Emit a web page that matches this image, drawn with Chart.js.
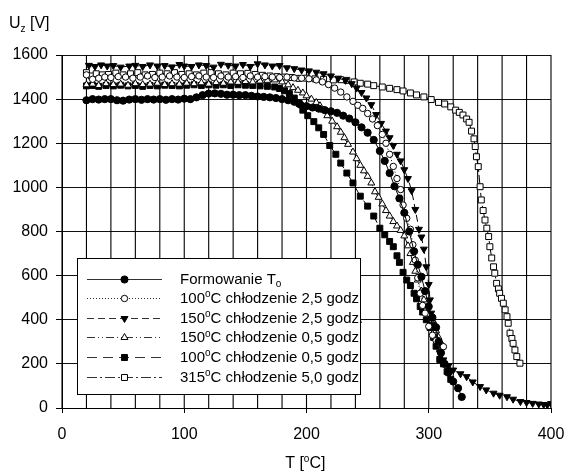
<!DOCTYPE html>
<html>
<head>
<meta charset="utf-8">
<script src="https://cdn.jsdelivr.net/npm/chart.js@4.4.1/dist/chart.umd.min.js"></script>
<style>
  html, body { margin: 0; padding: 0; background: #fff; }
  #chart { display: block; }
</style>
</head>
<body>
<canvas id="chart" width="568" height="471"></canvas>
<script>
// --- data ---
// Formowanie To
const tempForm = [20,25,30,35,40,45,50,55,60,65,
  70,75,80,85,90,95,100,105,110,115,
  120,125,130,135,140,145,150,155,160,165,
  170,175,180,185,190,195,200,205,210,215,
  220,225,230,235,240,245,250,255,260,264,
  268,272,276,280,284,288,291,294,297,300,
  303,306,308,310,313,316,320,324,327];
const voltForm = [1395,1400,1398,1400,1400,1395,1393,1398,1400,1397,
  1400,1398,1400,1397,1400,1398,1402,1400,1408,1418,
  1425,1426,1424,1420,1420,1418,1418,1415,1412,1410,
  1408,1405,1400,1395,1388,1375,1368,1362,1357,1350,
  1345,1338,1325,1312,1295,1272,1248,1215,1165,1120,
  1065,1005,950,885,800,710,650,595,530,460,
  410,365,300,250,200,160,120,90,50];

// 100C chlodzenie 2,5 godz
const temp100Long = [20,25,30,35,40,46,52,58,64,70,
  76,82,88,94,100,106,112,118,124,130,
  136,142,148,154,160,166,172,178,184,190,
  196,202,208,213,218,223,228,233,238,242,
  246,250,254,258,262,265,268,271,274,277,
  279,282,285,287,289,291,293,295,297,300,
  303,306,309,312];
const volt100Long = [1510,1490,1495,1500,1498,1502,1500,1495,1500,1505,
  1498,1500,1505,1500,1498,1502,1505,1500,1498,1505,
  1500,1502,1498,1505,1500,1502,1500,1498,1500,1496,
  1495,1492,1487,1478,1466,1450,1432,1410,1390,1372,
  1358,1335,1310,1280,1240,1200,1150,1095,1040,990,
  920,860,810,740,670,590,520,465,430,370,
  330,305,293,278];

// 150C chlodzenie 2,5 godz.
const temp150Long = [22,27,32,37,42,48,55,60,66,72,
  78,84,90,96,100,106,112,118,124,130,
  136,142,148,154,160,166,172,178,184,190,
  196,202,208,214,220,226,232,237,241,245,
  249,253,257,261,265,268,271,274,277,280,
  283,286,289,292,294,296,298,300,301,302,
  303,306,309,312,316,320,326,331,336,342,
  347,353,358,364,369,375,380,385,390,394,
  397,400];
const volt150Long = [1553,1548,1555,1550,1552,1545,1550,1553,1548,1555,
  1550,1552,1546,1557,1550,1548,1555,1552,1545,1558,
  1553,1550,1557,1548,1560,1555,1550,1552,1542,1538,
  1532,1528,1522,1515,1505,1495,1485,1470,1450,1430,
  1405,1375,1330,1290,1255,1225,1190,1150,1120,1080,
  1040,985,900,810,775,720,640,560,490,430,
  380,310,250,218,190,172,155,142,118,97,
  82,67,58,51,40,29,25,21,18,16,
  14,20];

// 150C chlodzenie 0,5 godz
const temp150Short = [20,25,30,36,42,48,54,60,66,72,
  78,84,90,96,102,108,114,120,126,132,
  138,144,150,156,162,168,174,180,185,189,
  193,197,200,204,208,211,214,217,221,225,
  228,231,234,238,241,244,247,250,253,256,
  259,262,265,268,271,274,277,280,283,285,
  287,289,291,294,296,298,300,302,304,306,
  308,310];
const volt150Short = [1465,1468,1462,1470,1466,1468,1463,1470,1466,1468,
  1472,1466,1470,1468,1472,1470,1474,1468,1475,1472,
  1478,1476,1480,1478,1482,1485,1487,1478,1465,1452,
  1440,1428,1415,1400,1385,1370,1350,1325,1300,1275,
  1250,1225,1195,1160,1130,1100,1075,1050,1020,980,
  955,925,895,870,845,825,805,780,735,700,
  660,620,580,530,490,450,425,405,390,350,
  320,295];

// 100C chlodzenie 0,5 godz
const temp100Short = [20,25,30,36,42,48,54,60,66,72,
  78,84,90,96,102,108,114,120,126,132,
  138,144,150,156,162,168,174,178,182,186,
  190,194,197,201,206,210,214,219,224,228,
  233,238,244,250,255,260,264,268,271,274,
  276,279,282,285,288,290,293,295,298,301,
  304,306,309,312,315,318];
const volt100Short = [1460,1462,1458,1462,1460,1463,1460,1462,1458,1462,
  1460,1463,1462,1460,1463,1465,1462,1465,1463,1465,
  1462,1465,1463,1462,1460,1458,1455,1448,1438,1425,
  1405,1380,1350,1325,1298,1270,1240,1190,1150,1110,
  1065,1020,960,915,870,815,785,755,731,690,
  660,615,580,555,520,495,460,435,400,365,
  320,280,220,200,165,130];

// 315C chlodzenie 5,0 godz
const temp315 = [20,24,28,33,38,44,50,56,62,68,
  74,80,86,92,98,104,110,116,122,128,
  134,140,146,152,158,164,170,176,182,188,
  194,200,207,214,222,228,233,239,244,250,
  255,262,268,274,279,285,290,296,302,308,
  313,318,322,325,328,331,333,335,337,338,
  339,340.5,342,343,344.5,346,347.5,349,350,351.5,
  353,354,355.5,357,358,359.5,361,362.5,364,365,
  366.5,368,369,370.5,372,374.6];
const volt315 = [1520,1505,1515,1510,1512,1518,1510,1515,1520,1510,
  1512,1518,1515,1520,1512,1515,1510,1518,1520,1515,
  1510,1518,1515,1517,1512,1508,1505,1502,1500,1498,
  1494,1495,1492,1490,1487,1488,1485,1478,1472,1468,
  1461,1455,1449,1443,1437,1428,1419,1410,1398,1385,
  1378,1365,1350,1340,1328,1310,1295,1255,1220,1185,
  1139,1094,1003,943,895,852,815,777,731,680,
  640,611,565,540,520,497,475,445,414,384,
  339,315,293,263,233,203];

// legend texts: [main, superscript/subscript, rest]
const seriesNames = [
  ['Formowanie T', 'o', ''],
  ['100', 'o', 'C chłodzenie 2,5 godz'],
  ['150', 'o', 'C chłodzenie 2,5 godz.'],
  ['150', 'o', 'C chłodzenie 0,5 godz'],
  ['100', 'o', 'C chłodzenie 0,5 godz'],
  ['315', 'o', 'C chłodzenie 5,0 godz']
];

const xTickLabels = [0, 100, 200, 300, 400];
const xGridStep = 20;
const yTickLabels = [0, 200, 400, 600, 800, 1000, 1200, 1400, 1600];

function toPoints(xs, ys) {
  return xs.map((x, i) => ({ x: x, y: ys[i] }));
}

// style per series
const seriesStyle = [
  { pts: toPoints(tempForm, voltForm), shape: 'circle', fill: '#000', r: 3.6, dash: [] },
  { pts: toPoints(temp100Long, volt100Long), shape: 'circle', fill: '#fff', r: 3.2, dash: [1, 2] },
  { pts: toPoints(temp150Long, volt150Long), shape: 'triangle', rot: 180, fill: '#000', r: 4, dash: [7, 4] },
  { pts: toPoints(temp150Short, volt150Short), shape: 'triangle', fill: '#fff', r: 4, dash: [8, 3, 1, 3, 1, 3] },
  { pts: toPoints(temp100Short, volt100Short), shape: 'rect', fill: '#000', r: 4.2, dash: [10, 6] },
  { pts: toPoints(temp315, volt315), shape: 'rect', fill: '#fff', r: 4.2, dash: [10, 3, 2, 3] }
];

const FONT = '"Liberation Sans", Arial, sans-serif';

// draw text with one raised / lowered small part
function drawRich(ctx, x, y, main, small, rest, size, sub) {
  ctx.font = size + 'px ' + FONT;
  ctx.fillText(main, x, y);
  x += ctx.measureText(main).width;
  ctx.font = Math.round(size * 0.65) + 'px ' + FONT;
  ctx.fillText(small, x, y + (sub ? size * 0.25 : -size * 0.38));
  x += ctx.measureText(small).width;
  ctx.font = size + 'px ' + FONT;
  ctx.fillText(rest, x, y);
}

function drawMark(ctx, s, x, y) {
  ctx.save();
  ctx.fillStyle = s.fill;
  ctx.strokeStyle = '#000';
  ctx.lineWidth = 1;
  ctx.setLineDash([]);
  ctx.beginPath();
  const r = s.r;
  if (s.shape === 'circle') {
    ctx.arc(x, y, r, 0, Math.PI * 2);
  } else if (s.shape === 'rect') {
    const h = r * Math.SQRT1_2;
    ctx.rect(x - h, y - h, 2 * h, 2 * h);
  } else {
    const d = s.rot ? -1 : 1;
    ctx.moveTo(x, y - d * r);
    ctx.lineTo(x + r * 0.866, y + d * r * 0.5);
    ctx.lineTo(x - r * 0.866, y + d * r * 0.5);
    ctx.closePath();
  }
  ctx.fill();
  ctx.stroke();
  ctx.restore();
}

// vertical grid every 20 degrees, placed through the x scale
const gridPlugin = {
  id: 'vgrid',
  beforeDatasetsDraw(chart) {
    const ctx = chart.ctx;
    const xs = chart.scales.x;
    const area = chart.chartArea;
    ctx.save();
    ctx.setLineDash([]);
    ctx.strokeStyle = '#000';
    ctx.lineWidth = 1.1;
    for (let v = xs.min; v <= xs.max; v += xGridStep) {
      const px = xs.getPixelForValue(v);
      ctx.beginPath();
      ctx.moveTo(px, area.top);
      ctx.lineTo(px, area.bottom);
      ctx.stroke();
    }
    ctx.restore();
  }
};

const decorPlugin = {
  id: 'decor',
  afterDraw(chart) {
    const ctx = chart.ctx;
    ctx.save();
    ctx.fillStyle = '#000';
    ctx.textBaseline = 'alphabetic';
    ctx.textAlign = 'left';
    // axis titles
    drawRich(ctx, 9, 28, 'U', 'z', ' [V]', 16, true);
    ctx.font = '16px ' + FONT;
    const w = ctx.measureText('T [').width + ctx.measureText('C]').width + 7;
    drawRich(ctx, 306 - w / 2, 468, 'T [', 'o', 'C]', 16, false);

    // legend box
    const bx = 77, by = 258, bw = 283, bh = 136;
    ctx.fillStyle = '#fff';
    ctx.fillRect(bx, by, bw, bh);
    ctx.strokeStyle = '#000';
    ctx.lineWidth = 1;
    ctx.strokeRect(bx + 0.5, by + 0.5, bw, bh);
    seriesStyle.forEach((s, i) => {
      const y = 278.5 + i * 19.6;
      ctx.save();
      ctx.strokeStyle = '#333';
      ctx.lineWidth = 1;
      ctx.setLineDash(s.dash);
      ctx.beginPath();
      ctx.moveTo(87, Math.round(y) + 0.5);
      ctx.lineTo(162, Math.round(y) + 0.5);
      ctx.stroke();
      ctx.restore();
      drawMark(ctx, s, 124.5, Math.round(y) + 0.5);
      ctx.fillStyle = '#000';
      const n = seriesNames[i];
      drawRich(ctx, 180, y + 5, n[0], n[1], n[2], 15, i === 0);
    });
    ctx.restore();
  }
};

const ctx = document.getElementById('chart').getContext('2d');
new Chart(ctx, {
  type: 'line',
  data: {
    datasets: seriesStyle.map(s => ({
      data: s.pts,
      borderColor: '#000',
      borderWidth: 1,
      borderDash: s.dash,
      pointStyle: s.shape,
      pointRotation: s.rot || 0,
      pointRadius: s.r,
      pointBackgroundColor: s.fill,
      pointBorderColor: '#000',
      pointBorderWidth: 1,
      tension: 0,
      fill: false
    }))
  },
  options: {
    responsive: false,
    animation: false,
    events: [],
    layout: { padding: { top: 55, right: 17, left: 0, bottom: 0 } },
    plugins: { legend: { display: false }, tooltip: { enabled: false } },
    scales: {
      x: {
        type: 'linear',
        min: 0,
        max: 400,
        ticks: {
          stepSize: 100,
          autoSkip: false,
          maxRotation: 0,
          padding: 12,
          color: '#000',
          font: { family: FONT, size: 16 },
          callback: v => xTickLabels.includes(v) ? String(v) : ''
        },
        grid: {
          drawOnChartArea: false,
          color: '#000',
          lineWidth: 1,
          tickLength: 5,
          tickColor: '#000'
        },
        border: { color: '#000', width: 1 },
        afterFit: scale => {
          scale.height = 63;
          scale.paddingLeft = 0;
          scale.paddingRight = 0;
        }
      },
      y: {
        min: 0,
        max: 1600,
        ticks: {
          stepSize: 200,
          padding: 8,
          color: '#000',
          font: { family: FONT, size: 16 },
          callback: v => yTickLabels.includes(v) ? String(v) : ''
        },
        grid: { color: '#111', lineWidth: 1, tickLength: 6, tickColor: '#000' },
        border: { color: '#000', width: 1 },
        afterFit: scale => {
          scale.width = 62;
          scale.paddingTop = 0;
          scale.paddingBottom = 0;
        }
      }
    }
  },
  plugins: [gridPlugin, decorPlugin]
});
</script>
</body>
</html>
